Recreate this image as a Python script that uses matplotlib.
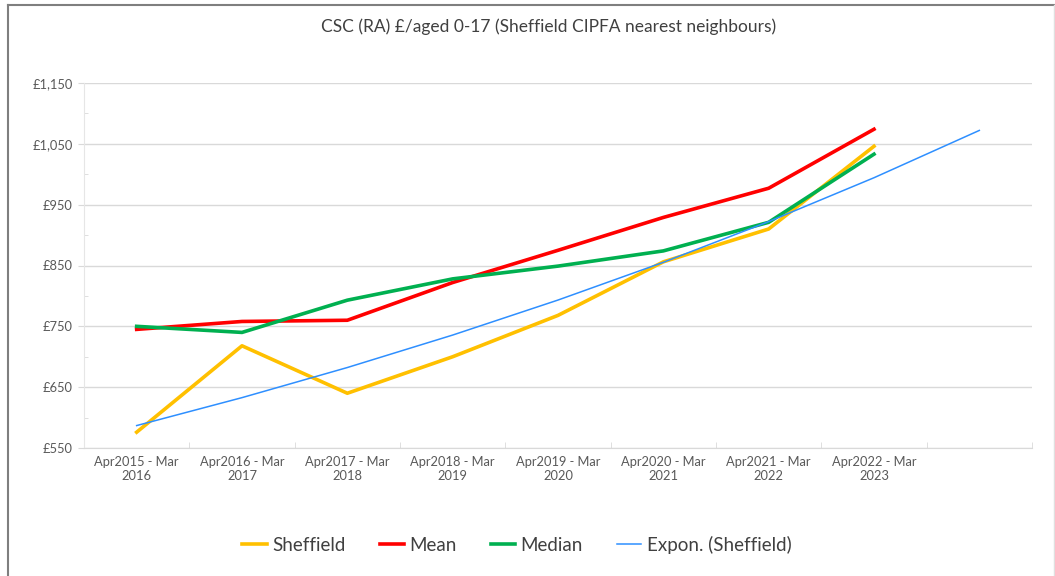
import numpy as np
import matplotlib
matplotlib.use("Agg")
import matplotlib.pyplot as plt
from matplotlib.ticker import FuncFormatter

plt.rcParams['font.family'] = ['Lato', 'DejaVu Sans']

# данные
periods = ["Apr2015 - Mar\n2016", "Apr2016 - Mar\n2017", "Apr2017 - Mar\n2018",
           "Apr2018 - Mar\n2019", "Apr2019 - Mar\n2020", "Apr2020 - Mar\n2021",
           "Apr2021 - Mar\n2022", "Apr2022 - Mar\n2023", ""]
sheffield = [576, 718, 640, 700, 768, 856, 910, 1046]
mean = [745, 758, 760, 822, 875, 929, 977, 1074]
median = [750, 740, 793, 828, 849, 874, 921, 1033]

x = np.arange(len(sheffield))
# экспоненциальный тренд (как в Excel), продлён на один период вперёд
b, a = np.polyfit(x, np.log(sheffield), 1)
x_trend = np.arange(len(periods))
trend = np.exp(a + b * x_trend)

fig = plt.figure(figsize=(10.55, 5.76), dpi=100)
ax = fig.add_axes([84 / 1055, 1 - 448 / 576, (1032 - 84) / 1055, (448 - 83) / 576])

ax.plot(x, sheffield, color="#FFC000", lw=2.6, label="Sheffield")
ax.plot(x, mean, color="#FF0000", lw=2.6, label="Mean")
ax.plot(x, median, color="#00B050", lw=2.6, label="Median")
ax.plot(x_trend, trend, color="#2E8FFF", lw=1.1, label="Expon. (Sheffield)")

ax.set_xlim(-0.5, len(periods) - 0.5)
ax.set_ylim(550, 1150)
ax.set_yticks(np.arange(550, 1151, 100))
ax.set_yticks(np.arange(600, 1150, 100), minor=True)
ax.yaxis.set_major_formatter(FuncFormatter(lambda v, p: "£{:,.0f}".format(v)))
ax.grid(axis="y", which="major", color="#D9D9D9", lw=1)
ax.set_axisbelow(True)

ax.set_xticks(x_trend)
ax.set_xticklabels(periods)
ax.set_xticks(np.arange(len(periods) + 1) - 0.5, minor=True)
ax.tick_params(axis="x", which="major", length=0, pad=6, labelsize=9.3, colors="#595959")
ax.tick_params(axis="x", which="minor", length=4, color="#D9D9D9", direction="in")
ax.tick_params(axis="y", which="major", length=4, color="#D9D9D9", labelsize=9.3,
               labelcolor="#595959", pad=4)
ax.tick_params(axis="y", which="minor", length=3, color="#D9D9D9", direction="in")

for s in ["top", "right"]:
    ax.spines[s].set_visible(False)
ax.spines["left"].set_color("#E6E6E6")
ax.spines["bottom"].set_color("#D9D9D9")

fig.text(549 / 1055, 1 - 27 / 576, "CSC (RA) £/aged 0-17 (Sheffield CIPFA nearest neighbours)",
         ha="center", va="center", fontsize=12.5, color="#404040")

fig.legend(loc="center", bbox_to_anchor=(517 / 1055, 1 - 545 / 576), ncol=4, frameon=False,
           fontsize=13.5, handlelength=1.3, handletextpad=0.3, columnspacing=1.8,
           labelcolor="#404040")

# рамка диаграммы
fig.add_artist(plt.Line2D([8 / 1055, 8 / 1055], [0, 1 - 5 / 576], color="#7F7F7F", lw=1.5,
                          transform=fig.transFigure))
fig.add_artist(plt.Line2D([8 / 1055, 1054 / 1055], [1 - 5 / 576, 1 - 5 / 576], color="#7F7F7F",
                          lw=1.5, transform=fig.transFigure))
fig.add_artist(plt.Line2D([1054 / 1055, 1054 / 1055], [0, 1 - 5 / 576], color="#E0E0E0", lw=1,
                          transform=fig.transFigure))

fig.savefig("out.png", dpi=100)
